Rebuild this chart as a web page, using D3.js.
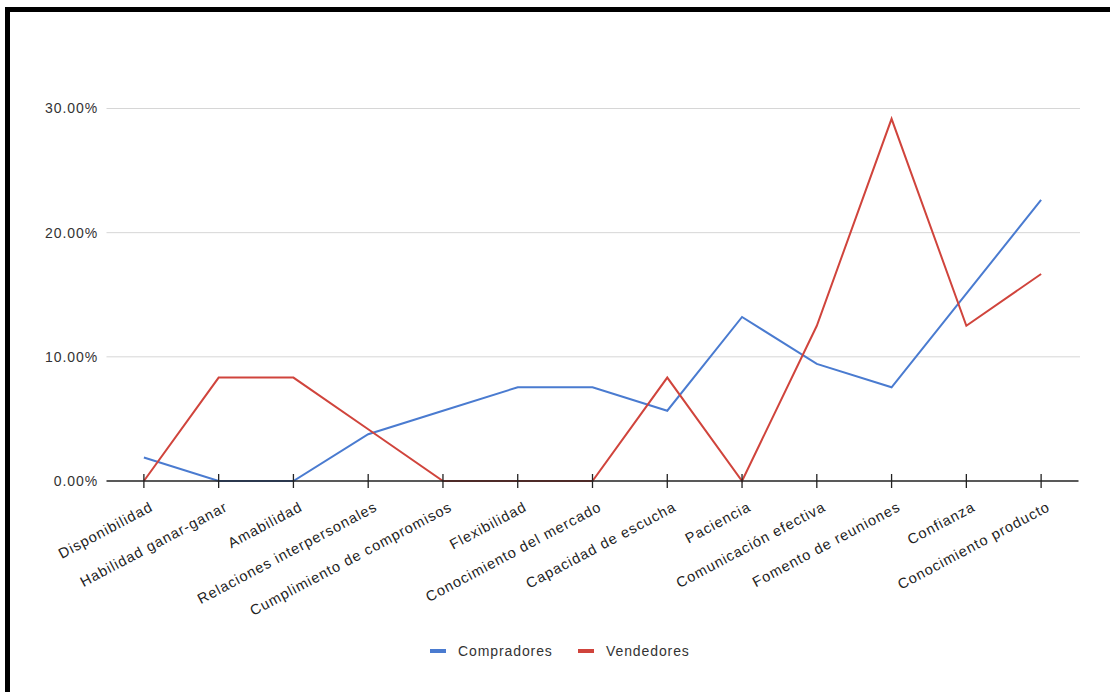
<!DOCTYPE html>
<html>
<head>
<meta charset="utf-8">
<script src="https://cdn.jsdelivr.net/npm/d3@7"></script>
<style>
  html, body { margin: 0; padding: 0; background: #fff; }
  svg { display: block; }
  text { font-family: "Liberation Sans", Arial, sans-serif; }
</style>
</head>
<body>
<svg id="chart" width="1110" height="692"></svg>
<script>
const categories = [
  "Disponibilidad", "Habilidad ganar-ganar", "Amabilidad", "Relaciones interpersonales",
  "Cumplimiento de compromisos", "Flexibilidad", "Conocimiento del mercado",
  "Capacidad de escucha", "Paciencia", "Comunicación efectiva",
  "Fomento de reuniones", "Confianza", "Conocimiento producto"
];
const compradores = [1.89, 0, 0, 3.77, 5.66, 7.55, 7.55, 5.66, 13.21, 9.43, 7.55, 15.09, 22.64];
const vendedores  = [0, 8.33, 8.33, 4.17, 0, 0, 0, 8.33, 0, 12.5, 29.17, 12.5, 16.67];
const yTicks = [0, 10, 20, 30];
const seriesNames = ["Compradores", "Vendedores"];
const seriesColors = ["#4a7bd0", "#d0443c"];

const svg = d3.select("#chart");

// frame (top and left edges visible)
svg.append("rect").attr("x", 5).attr("y", 7).attr("width", 5).attr("height", 685).attr("fill", "#000");
svg.append("rect").attr("x", 5).attr("y", 7).attr("width", 1105).attr("height", 5).attr("fill", "#000");

const x = d3.scalePoint().domain(categories).range([106.5, 1078.5]).padding(0.5);
const y = d3.scaleLinear().domain([0, 30]).range([481, 108.5]);

// gridlines
svg.append("g").selectAll("line").data(yTicks.filter(d => d > 0)).join("line")
  .attr("x1", 106.5).attr("x2", 1080)
  .attr("y1", d => y(d)).attr("y2", d => y(d))
  .attr("stroke", "#d6d6d6").attr("stroke-width", 1);

// y labels
svg.append("g").selectAll("text").data(yTicks).join("text")
  .attr("x", 98).attr("y", d => y(d)).attr("dy", "0.35em")
  .attr("text-anchor", "end").attr("font-size", 14).attr("letter-spacing", 0.9).attr("fill", "#333")
  .text(d => d.toFixed(2) + "%");

// lines
const line = d3.line().x((d, i) => x(categories[i])).y(d => y(d));
[compradores, vendedores].forEach((s, k) => {
  svg.append("path").datum(s).attr("d", line)
    .attr("fill", "none").attr("stroke", seriesColors[k]).attr("stroke-width", 2)
    .attr("stroke-linejoin", "miter");
});

// x axis
const xAxis = d3.axisBottom(x).tickSize(0).tickFormat("");
const gx = svg.append("g").attr("transform", `translate(0,${y(0)})`).call(xAxis);
gx.select(".domain").attr("stroke", "#222").attr("stroke-width", 1.3).attr("d", "M106.5,0H1078.5");
gx.selectAll(".tick line").remove();
svg.append("g").selectAll("line").data(categories).join("line")
  .attr("x1", d => x(d)).attr("x2", d => x(d))
  .attr("y1", y(0) - 7).attr("y2", y(0) + 7)
  .attr("stroke", "#222").attr("stroke-width", 1.3);

svg.append("g").selectAll("text").data(categories).join("text")
  .attr("transform", d => `translate(${x(d) + 10},${y(0) + 29}) rotate(-28)`)
  .attr("text-anchor", "end").attr("font-size", 14.5).attr("letter-spacing", 1).attr("fill", "#222")
  .text(d => d);

// legend
const legend = svg.append("g");
const legX = [430, 578];
seriesNames.forEach((n, k) => {
  legend.append("rect").attr("x", legX[k]).attr("y", 649).attr("width", 16).attr("height", 4)
    .attr("fill", seriesColors[k]);
  legend.append("text").attr("x", legX[k] + 28).attr("y", 651).attr("dy", "0.35em")
    .attr("font-size", 14).attr("letter-spacing", 0.9).attr("fill", "#333").text(n);
});
</script>
</body>
</html>
